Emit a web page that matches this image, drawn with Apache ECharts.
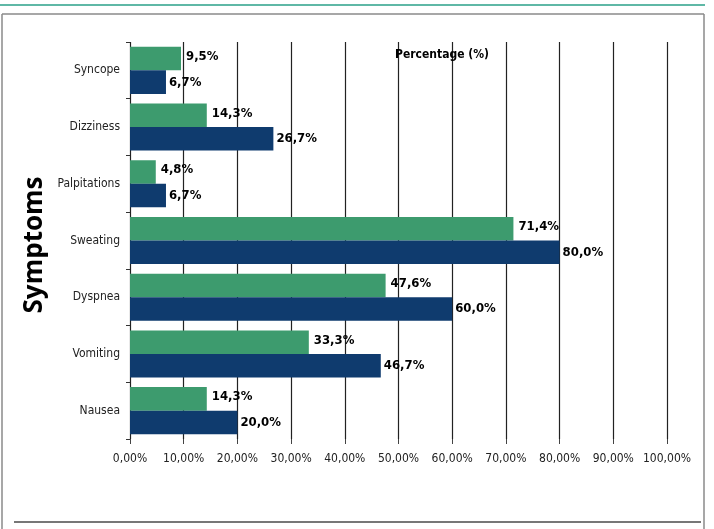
<!DOCTYPE html>
<html>
<head>
<meta charset="utf-8">
<script src="https://cdn.jsdelivr.net/npm/echarts@6/dist/echarts.min.js"></script>
<style>
html,body{margin:0;padding:0;background:#fff;}
#chart{width:714px;height:529px;}
</style>
</head>
<body>
<div id="chart"></div>
<script>
// Categories listed bottom to top
var categories = ['Nausea', 'Vomiting', 'Dyspnea', 'Sweating', 'Palpitations', 'Dizziness', 'Syncope'];
var greenValues = [14.3, 33.3, 47.6, 71.4, 4.8, 14.3, 9.5];
var navyValues = [20.0, 46.7, 60.0, 80.0, 6.7, 26.7, 6.7];
var xTicks = [0, 10, 20, 30, 40, 50, 60, 70, 80, 90, 100];

var chart = echarts.init(document.getElementById('chart'));
var fontNarrow = '"DejaVu Sans Condensed", "Liberation Sans Narrow", "Liberation Sans", sans-serif';

function fmt(v) { return v.toFixed(1).replace('.', ',') + '%'; }

var option = {
  animation: false,
  backgroundColor: '#fff',
  grid: { left: 130, right: 47, top: 42, bottom: 90, containLabel: false },
  xAxis: {
    type: 'value',
    min: xTicks[0],
    max: xTicks[xTicks.length - 1],
    interval: 10,
    axisLine: { show: false },
    axisTick: { show: true, length: 5, lineStyle: { color: '#444' } },
    axisLabel: {
      margin: 14,
      color: '#222',
      fontFamily: fontNarrow,
      fontSize: 12,
      formatter: function (v) { return v.toFixed(2).replace('.', ',') + '%'; }
    },
    splitLine: { show: true, lineStyle: { color: '#222', width: 1.2 } }
  },
  yAxis: {
    type: 'category',
    data: categories,
    axisLine: { show: false },
    axisTick: { show: true, length: 4, lineStyle: { color: '#333' } },
    axisLabel: { margin: 10, color: '#222', fontFamily: fontNarrow, fontSize: 12 },
    splitLine: { show: false }
  },
  series: [
    {
      name: 'green',
      type: 'bar',
      data: greenValues,
      barGap: '0%',
      barCategoryGap: '17%',
      itemStyle: { color: '#3d9b6e' },
      label: {
        show: true, position: 'right', distance: 5, offset: [0, -2],
        color: '#000', fontWeight: 'bold', fontFamily: fontNarrow, fontSize: 13,
        formatter: function (p) { return fmt(p.value); }
      }
    },
    {
      name: 'navy',
      type: 'bar',
      data: navyValues,
      barGap: '0%',
      barCategoryGap: '17%',
      itemStyle: { color: '#0f3b6e' },
      label: {
        show: true, position: 'right', distance: 3,
        color: '#000', fontWeight: 'bold', fontFamily: fontNarrow, fontSize: 13,
        formatter: function (p) { return fmt(p.value); }
      }
    }
  ],
  graphic: [
    { type: 'line', shape: { x1: 0, y1: 5, x2: 705, y2: 5 }, style: { stroke: '#5fb8a6', lineWidth: 2 }, silent: true },
    { type: 'line', shape: { x1: 2, y1: 14, x2: 704, y2: 14 }, style: { stroke: '#8a8a8a', lineWidth: 1.5 }, silent: true },
    { type: 'line', shape: { x1: 2, y1: 14, x2: 2, y2: 529 }, style: { stroke: '#8a8a8a', lineWidth: 1.5 }, silent: true },
    { type: 'line', shape: { x1: 704, y1: 14, x2: 704, y2: 529 }, style: { stroke: '#8a8a8a', lineWidth: 1.5 }, silent: true },
    { type: 'line', shape: { x1: 14, y1: 522, x2: 701, y2: 522 }, style: { stroke: '#777', lineWidth: 2 }, silent: true },
    {
      type: 'text', left: 395, top: 49, z: 10,
      style: { text: 'Percentage (%)', fill: '#000', font: 'bold 12px ' + fontNarrow }
    },
    {
      type: 'text', x: 35, y: 245, rotation: Math.PI / 2, z: 10,
      style: { text: 'Symptoms', fill: '#000', font: 'bold 26px "Open Sans", "Liberation Sans", sans-serif', align: 'center', verticalAlign: 'middle' }
    }
  ]
};
chart.setOption(option);
</script>
</body>
</html>
